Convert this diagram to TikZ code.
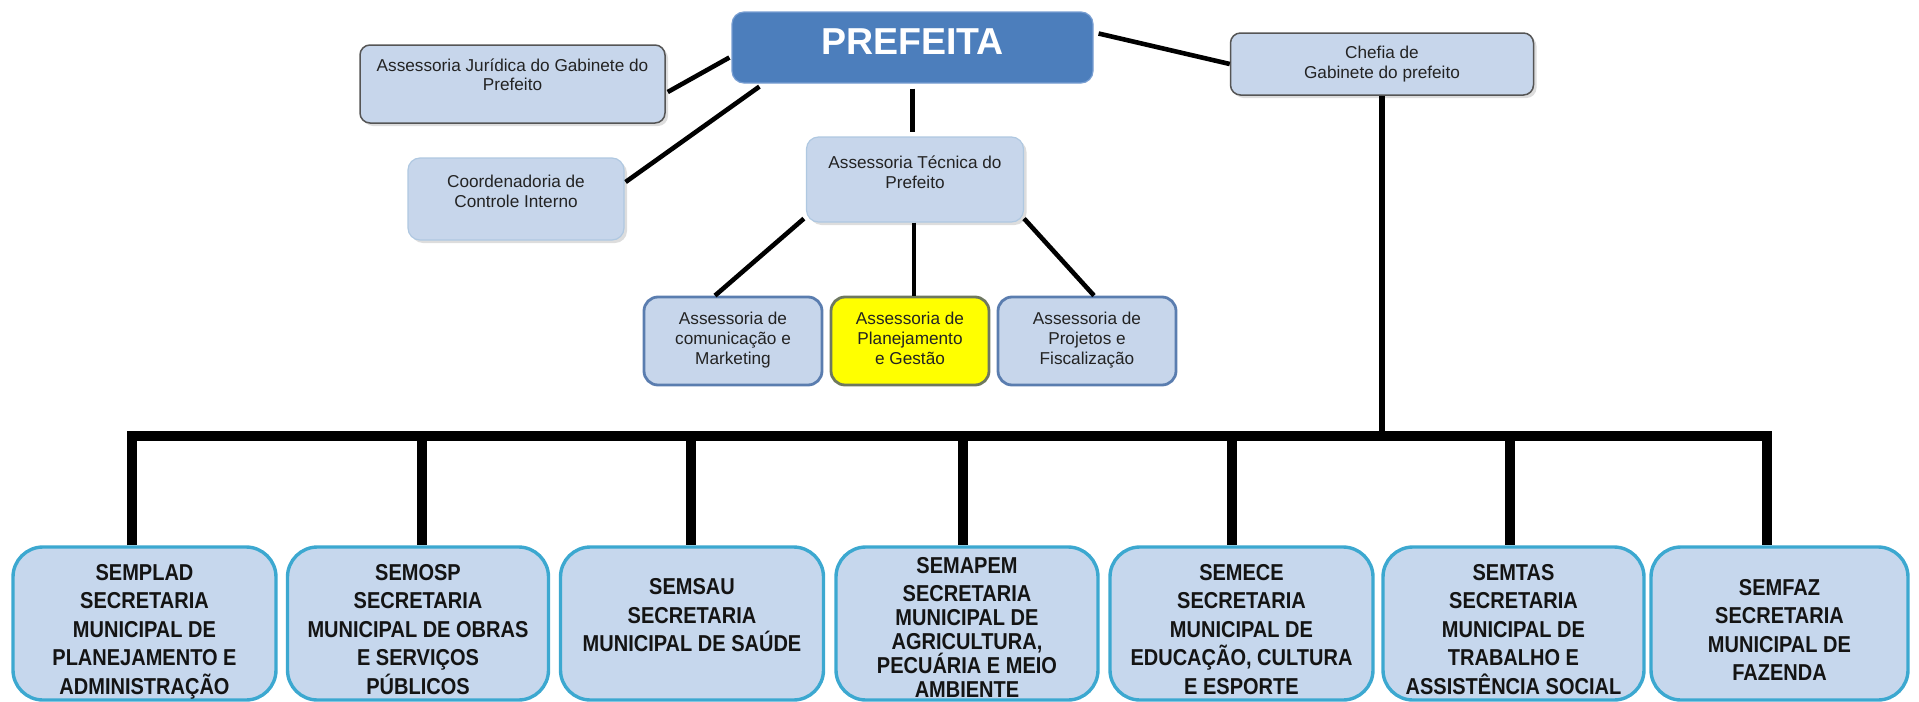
\documentclass[tikz,border=0pt]{standalone}
\usepackage{fontspec}
\setmainfont{Liberation Sans}
\newfontfamily\condfont[FakeStretch=0.87]{Liberation Sans}
\usetikzlibrary{calc,shadows}
\definecolor{boxfill}{RGB}{198,215,237}
\definecolor{topfill}{RGB}{199,214,235}
\definecolor{prefill}{RGB}{76,126,188}
\definecolor{prefdraw}{RGB}{120,158,210}
\definecolor{darkedge}{RGB}{85,85,85}
\definecolor{softedge}{RGB}{175,200,225}
\definecolor{midedge}{RGB}{90,125,175}
\definecolor{cyanedge}{RGB}{60,168,208}
\definecolor{yelfill}{RGB}{255,255,0}
\definecolor{yeledge}{RGB}{110,120,95}
\definecolor{txt}{RGB}{35,35,35}
\tikzset{
  wh/.style 2 args={minimum width=#1*0.5pt, minimum height=#2*0.5pt},
  shad/.style={drop shadow={shadow xshift=1.5pt, shadow yshift=-1.5pt, opacity=0.22, fill=black!60}},
  small/.style={font=\fontsize{8.6}{10}\selectfont, text=txt, align=center, inner sep=0pt, text height=16.1pt},
  pref/.style={fill=prefill, draw=prefdraw, line width=0.6pt, rounded corners=6pt, inner sep=0pt,
    text=white, font=\bfseries\fontsize{18.75}{20}\selectfont, text height=13.4pt, text depth=6pt},
  jur/.style={small, shad, fill=topfill, draw=darkedge, line width=0.75pt, rounded corners=5pt},
  soft/.style={small, shad, fill=topfill, draw=softedge, line width=0.6pt, rounded corners=6pt},
  mid/.style={small, fill=topfill, draw=midedge, line width=1.4pt, rounded corners=7pt},
  yel/.style={small, fill=yelfill, draw=yeledge, line width=1.4pt, rounded corners=7pt},
  sec/.style={fill=boxfill, draw=cyanedge, line width=1.7pt, rounded corners=15pt, inner sep=0pt,
    align=center, text=black!92, font=\condfont\bfseries\fontsize{11.5}{14.25}\selectfont,
    text depth=0pt},
  conn/.style={line width=2.3pt, draw=black},
  bus/.style={line width=5pt, draw=black, line join=miter},
}
\begin{document}
\begin{tikzpicture}[x=0.5pt, y=-0.5pt]
\path[use as bounding box] (0,0) rectangle (1919,702);

% top level
\node[pref, wh={361}{71}] (PREF) at (912.5,47.5) {PREFEITA};
\node[jur, wh={305}{78}, text height=15.6pt, text depth=9pt] (JUR) at (512.5,84) {Assessoria Jurídica do Gabinete do\\[-0.5pt]Prefeito};
\node[soft, wh={216}{82}, text depth=7.5pt] (COORD) at (516,199) {Coordenadoria de\\Controle Interno};
\node[soft, wh={217}{85}, text depth=7pt] (TEC) at (915,179.5) {Assessoria Técnica do\\Prefeito};
\node[jur, wh={303}{62}, text depth=2pt] (CHEF) at (1382,64) {Chefia de\\Gabinete do prefeito};

\node[mid, wh={178}{88}, text height=26.1pt, text depth=3pt] (COM) at (733,341) {Assessoria de\\comunicação e\\Marketing};
\node[yel, wh={158}{88}, text height=26.1pt, text depth=3pt] (PLAN) at (910,341) {Assessoria de\\Planejamento\\e Gestão};
\node[mid, wh={178}{88}, text height=26.1pt, text depth=3pt] (PROJ) at (1087,341) {Assessoria de\\Projetos e\\Fiscalização};

% secretarias
\node[sec, wh={263}{153}, text height=70.7pt] (SEMPLAD) at (144.5,623.5)
  {SEMPLAD\\SECRETARIA\\MUNICIPAL DE\\PLANEJAMENTO E\\ADMINISTRAÇÃO};
\node[sec, wh={261}{153}, text height=70.7pt] (SEMOSP) at (418,623.5)
  {SEMOSP\\SECRETARIA\\MUNICIPAL DE OBRAS\\E SERVIÇOS\\PÚBLICOS};
\node[sec, wh={263}{153}, text height=36.7pt, text depth=8.5pt] (SEMSAU) at (692,623.5)
  {SEMSAU\\SECRETARIA\\MUNICIPAL DE SAÚDE};
\node[sec, wh={262}{153}, text height=73.7pt, font=\condfont\bfseries\fontsize{11.5}{12}\selectfont] (SEMAPEM) at (967,623.5)
  {SEMAPEM\\[2pt]SECRETARIA\\MUNICIPAL DE\\AGRICULTURA,\\PECUÁRIA E MEIO\\AMBIENTE};
\node[sec, wh={263}{153}, text height=70.7pt] (SEMECE) at (1241.5,623.5)
  {SEMECE\\SECRETARIA\\MUNICIPAL DE\\EDUCAÇÃO, CULTURA\\E ESPORTE};
\node[sec, wh={261}{153}, text height=70.7pt] (SEMTAS) at (1513.5,623.5)
  {SEMTAS\\SECRETARIA\\MUNICIPAL DE\\TRABALHO E\\ASSISTÊNCIA SOCIAL};
\node[sec, wh={257}{153}, text height=57.45pt] (SEMFAZ) at (1779.5,623.5)
  {SEMFAZ\\SECRETARIA\\MUNICIPAL DE\\FAZENDA};

% connectors top
\draw[conn] ($(PREF.west)+(-2,10)$) -- ($(JUR.east)+(2,8)$);
\draw[conn] ($(PREF.south west)+(28,3)$) -- ($(COORD.east)+(1,-17)$);
\draw[conn] ($(PREF.east)+(5,-14)$) -- (CHEF.west);
\draw[conn] ($(PREF.south)+(0,5)$) -- ($(PREF.south |- TEC.north)+(0,-4)$);
\draw[conn] ($(TEC.south west)+(-2,-4)$) -- ($(COM.north)+(-18,0)$);
\draw[conn] ($(TEC.south)+(-1,0)$) -- ($(TEC.south |- PLAN.north)+(-1,0)$);
\draw[conn] ($(TEC.south east)+(0,-4)$) -- ($(PROJ.north)+(7,0)$);

% bus
\coordinate (busL) at (132,435.5);
\coordinate (busR) at (1767,435.5);
\coordinate (d2) at (422,435.5);
\coordinate (d3) at (691,435.5);
\coordinate (d4) at (963,435.5);
\coordinate (d5) at (1232,435.5);
\coordinate (d6) at (1510,435.5);
\draw[conn, line width=3pt] (CHEF.south) -- (CHEF.south |- busL);
\draw[bus] (busL |- SEMPLAD.north) -- (busL) -- (busR) -- (busR |- SEMFAZ.north);
\draw[bus] (d2) -- (d2 |- SEMOSP.north);
\draw[bus] (d3) -- (d3 |- SEMSAU.north);
\draw[bus] (d4) -- (d4 |- SEMAPEM.north);
\draw[bus] (d5) -- (d5 |- SEMECE.north);
\draw[bus] (d6) -- (d6 |- SEMTAS.north);
\end{tikzpicture}
\end{document}
